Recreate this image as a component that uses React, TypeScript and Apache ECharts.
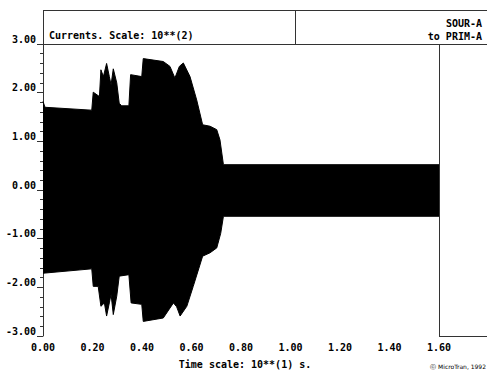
import React, { useEffect, useRef } from "react";
import * as echarts from "echarts";

// Envelope of the oscillating current (time in units of 10 s, current in units of 100 A)
const upperT = [0.0, 0.008, 0.197, 0.203, 0.228, 0.234, 0.244, 0.257, 0.268, 0.275, 0.284, 0.298, 0.308, 0.318, 0.347, 0.354, 0.399, 0.405, 0.486, 0.513, 0.533, 0.551, 0.567, 0.594, 0.621, 0.645, 0.675, 0.702, 0.715, 0.729, 1.6];
const upperV = [1.82, 1.70, 1.64, 2.01, 1.92, 2.47, 2.33, 2.60, 2.33, 2.16, 2.49, 2.20, 1.78, 1.73, 1.73, 2.37, 2.33, 2.70, 2.64, 2.54, 2.30, 2.54, 2.61, 2.33, 1.85, 1.34, 1.31, 1.24, 1.03, 0.52, 0.52];
const lowerT = [0.0, 0.197, 0.203, 0.223, 0.234, 0.248, 0.257, 0.268, 0.275, 0.284, 0.298, 0.308, 0.347, 0.356, 0.399, 0.405, 0.486, 0.527, 0.54, 0.554, 0.581, 0.607, 0.645, 0.675, 0.702, 0.718, 0.729, 1.6];
const lowerV = [-1.71, -1.62, -1.98, -1.98, -2.39, -2.32, -2.59, -2.32, -2.14, -2.56, -2.18, -1.77, -1.74, -2.32, -2.35, -2.70, -2.63, -2.32, -2.40, -2.59, -2.39, -1.98, -1.36, -1.29, -1.19, -0.89, -0.54, -0.54];

const yMin = -3;
const yMax = 3;
const xMin = 0;
const xMax = 1.6;
const title = "Currents. Scale: 10**(2)";
const fromLabel = "SOUR-A";
const toLabel = "to PRIM-A";
const xTitle = "Time scale: 10**(1) s.";
const credit = "\u24D2 MicroTran, 1992";

export default function App() {
  const ref = useRef<HTMLDivElement>(null);
  useEffect(() => {
    const chart = echarts.init(ref.current as HTMLDivElement, null, { renderer: "svg" });
    const mono = "'DejaVu Sans Mono', 'Liberation Mono', monospace";
    const frame = "#333";
    const txt = { fontFamily: mono, fontWeight: "bold" as const, fontSize: 10, fill: "#000" };
    chart.setOption({
      animation: false,
      backgroundColor: "#fff",
      grid: { left: 43, right: 48, top: 44, bottom: 35 },
      xAxis: {
        type: "value",
        min: xMin,
        max: xMax,
        interval: 0.2,
        axisLine: { show: true, lineStyle: { color: frame, width: 1 } },
        axisTick: { show: true, inside: true, length: 3, lineStyle: { color: frame } },
        minorTick: { show: true, splitNumber: 5, length: 2, lineStyle: { color: frame } },
        splitLine: { show: false },
        axisLabel: {
          formatter: (v: number) => v.toFixed(2),
          color: "#000",
          fontFamily: mono,
          fontWeight: "bold",
          fontSize: 10,
          margin: 6,
        },
      },
      yAxis: {
        type: "value",
        min: yMin,
        max: yMax,
        interval: 1,
        axisLine: { show: true, lineStyle: { color: frame, width: 1 } },
        axisTick: { show: true, inside: false, length: 6, lineStyle: { color: frame } },
        minorTick: { show: true, splitNumber: 5, length: 3, lineStyle: { color: frame } },
        splitLine: { show: false },
        axisLabel: {
          formatter: (v: number) => v.toFixed(2),
          color: "#000",
          fontFamily: mono,
          fontWeight: "bold",
          fontSize: 10,
          margin: 7,
          verticalAlign: "bottom",
          lineHeight: 10,
        },
      },
      series: [
        {
          type: "line",
          data: upperT.map((t, i) => [t, upperV[i]]),
          symbol: "none",
          showSymbol: false,
          silent: true,
          lineStyle: { color: "#000", width: 1 },
          areaStyle: { color: "#000", opacity: 1 },
        },
        {
          type: "line",
          data: lowerT.map((t, i) => [t, lowerV[i]]),
          symbol: "none",
          showSymbol: false,
          silent: true,
          lineStyle: { color: "#000", width: 1 },
          areaStyle: { color: "#000", opacity: 1 },
        },
      ],
      graphic: [
        { type: "line", shape: { x1: 43, y1: 10.5, x2: 487, y2: 10.5 }, style: { stroke: frame, lineWidth: 1 } },
        { type: "line", shape: { x1: 43.5, y1: 10, x2: 43.5, y2: 44 }, style: { stroke: frame, lineWidth: 1 } },
        { type: "line", shape: { x1: 43, y1: 44.5, x2: 487, y2: 44.5 }, style: { stroke: frame, lineWidth: 1 } },
        { type: "line", shape: { x1: 295.5, y1: 10, x2: 295.5, y2: 44 }, style: { stroke: frame, lineWidth: 1 } },
        { type: "line", shape: { x1: 439.5, y1: 44, x2: 439.5, y2: 336 }, style: { stroke: frame, lineWidth: 1 } },
        { type: "line", shape: { x1: 439, y1: 336.5, x2: 487, y2: 336.5 }, style: { stroke: frame, lineWidth: 1 } },
        { type: "text", x: 49, y: 35, style: { ...txt, text: title, textAlign: "left", textVerticalAlign: "middle" } },
        { type: "text", x: 482, y: 23, style: { ...txt, text: fromLabel, textAlign: "right", textVerticalAlign: "middle" } },
        { type: "text", x: 482, y: 36, style: { ...txt, text: toLabel, textAlign: "right", textVerticalAlign: "middle" } },
        { type: "text", x: 245, y: 364, style: { ...txt, text: xTitle, textAlign: "center", textVerticalAlign: "middle" } },
        {
          type: "text",
          x: 486,
          y: 366,
          style: { text: credit, fontFamily: "'DejaVu Sans', sans-serif", fontSize: 6, fill: "#000", textAlign: "right", textVerticalAlign: "middle" },
        },
      ],
    });
    return () => chart.dispose();
  }, []);
  return (
    <div
      ref={ref}
      style={{ position: "fixed", left: 0, top: 0, width: 487, height: 371, background: "#fff" }}
    />
  );
}
